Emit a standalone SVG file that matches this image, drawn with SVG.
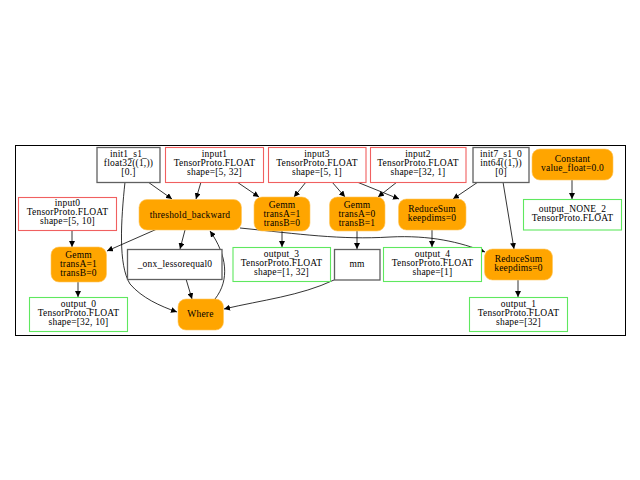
<svg xmlns="http://www.w3.org/2000/svg" width="640" height="480" viewBox="0 0 640 480">
<defs>
<marker id="ah" viewBox="0 0 10 10" refX="10" refY="5" markerWidth="6" markerHeight="6" markerUnits="userSpaceOnUse" orient="auto">
<path d="M0,0 L10,5 L0,10 z" fill="#000"/>
</marker>
</defs>
<style>
text{font-family:"Liberation Serif","Times New Roman",serif;font-size:9.5px;letter-spacing:0.2px;text-anchor:middle;fill:#000}
.init{fill:#fff;stroke:#606060;stroke-width:1.3}
.in{fill:#fff;stroke:#f06060;stroke-width:1.1}
.out{fill:#fff;stroke:#5fe85f;stroke-width:1.1}
.op{fill:#ffa500;stroke:#ffc860;stroke-width:0.6}
.e{fill:none;stroke:#000;stroke-width:0.8;marker-end:url(#ah)}
</style>
<rect width="640" height="480" fill="#fff"/>
<rect x="15.5" y="145.5" width="610" height="190" fill="none" stroke="#000" stroke-width="1"/>
<g id="connectors">
<path class="e" d="M148,182 L172,199"/>
<path class="e" d="M125,182 C121,220 118,265 130,284 C142,298 160,306 177,312"/>
<path class="e" d="M201,182 L196,199"/>
<path class="e" d="M237,182 L259,197"/>
<path class="e" d="M306,182 L294,197"/>
<path class="e" d="M332,182 L345,197"/>
<path class="e" d="M357,182 L399,199"/>
<path class="e" d="M397,182 L378,197"/>
<path class="e" d="M478,182 L453,199"/>
<path class="e" d="M503,182 L514,249"/>
<path class="e" d="M572,180 L572,199"/>
<path class="e" d="M72,231 L72,247"/>
<path class="e" d="M157,229 L107,251"/>
<path class="e" d="M185,230 L180,249"/>
<path class="e" d="M240,228 C300,234 340,240 390,237 C430,235 460,242 485,252"/>
<path class="e" d="M215,299 C230,280 227,255 210,231"/>
<path class="e" d="M186,279 L192,299"/>
<path class="e" d="M282,231 L282,247"/>
<path class="e" d="M357,231 L357,249"/>
<path class="e" d="M432,230 L432,247"/>
<path class="e" d="M518,280 L518,297"/>
<path class="e" d="M78,282 L78,297"/>
<path class="e" d="M334,280 C300,296 262,300 224,309"/>
</g>
<g id="init1_s1_"><rect class="init" x="97" y="147.5" width="63" height="35"/><text x="128.5" y="157">init1_s1_</text><text x="128.5" y="166">float32((1,))</text><text x="128.5" y="175">[0.]</text></g>
<g id="input1"><rect class="in" x="165.5" y="147.5" width="98" height="35"/><text x="214.5" y="157">input1</text><text x="214.5" y="166">TensorProto.FLOAT</text><text x="214.5" y="175">shape=[5, 32]</text></g>
<g id="input3"><rect class="in" x="268.5" y="147.5" width="97.5" height="35"/><text x="317" y="157">input3</text><text x="317" y="166">TensorProto.FLOAT</text><text x="317" y="175">shape=[5, 1]</text></g>
<g id="input2"><rect class="in" x="370.5" y="147.5" width="95.5" height="35"/><text x="418" y="157">input2</text><text x="418" y="166">TensorProto.FLOAT</text><text x="418" y="175">shape=[32, 1]</text></g>
<g id="init7_s1_0"><rect class="init" x="473" y="147.5" width="56" height="35"/><text x="501" y="157">init7_s1_0</text><text x="501" y="166">int64((1,))</text><text x="501" y="175">[0]</text></g>
<g id="Constant"><rect class="op" x="532" y="149" width="81" height="31" rx="8"/><text x="572.5" y="162">Constant</text><text x="572.5" y="171">value_float=0.0</text></g>
<g id="output_NONE_2"><rect class="out" x="523.5" y="199.5" width="98" height="30.5"/><text x="572.5" y="212">output_NONE_2</text><text x="572.5" y="221">TensorProto.FLOAT</text></g>
<g id="input0"><rect class="in" x="18.5" y="197.5" width="98" height="33"/><text x="67.5" y="206">input0</text><text x="67.5" y="215">TensorProto.FLOAT</text><text x="67.5" y="224">shape=[5, 10]</text></g>
<g id="threshold_backward"><rect class="op" x="139" y="199.5" width="102.5" height="30.5" rx="8"/><text x="190" y="218">threshold_backward</text></g>
<g id="Gemm_1"><rect class="op" x="254" y="197" width="56" height="34" rx="8"/><text x="282" y="208">Gemm</text><text x="282" y="217">transA=1</text><text x="282" y="226">transB=0</text></g>
<g id="Gemm_2"><rect class="op" x="329.5" y="197" width="55.5" height="34" rx="8"/><text x="357" y="208">Gemm</text><text x="357" y="217">transA=0</text><text x="357" y="226">transB=1</text></g>
<g id="ReduceSum_1"><rect class="op" x="398.5" y="199" width="67.5" height="31" rx="8"/><text x="432" y="212">ReduceSum</text><text x="432" y="221">keepdims=0</text></g>
<g id="Gemm_0"><rect class="op" x="51" y="247" width="55.5" height="35" rx="8"/><text x="78.5" y="258">Gemm</text><text x="78.5" y="267">transA=1</text><text x="78.5" y="276">transB=0</text></g>
<g id="_onx_lessorequal0"><rect class="init" x="127.5" y="249.5" width="94.5" height="30"/><text x="175" y="267">_onx_lessorequal0</text></g>
<g id="output_3"><rect class="out" x="233" y="247.5" width="97.5" height="34"/><text x="281.5" y="257">output_3</text><text x="281.5" y="266">TensorProto.FLOAT</text><text x="281.5" y="275">shape=[1, 32]</text></g>
<g id="mm"><rect class="init" x="334.5" y="249.5" width="45.5" height="30.5"/><text x="357" y="267">mm</text></g>
<g id="output_4"><rect class="out" x="383.5" y="247.5" width="98" height="34"/><text x="432.5" y="257">output_4</text><text x="432.5" y="266">TensorProto.FLOAT</text><text x="432.5" y="275">shape=[1]</text></g>
<g id="ReduceSum_0"><rect class="op" x="484.5" y="249" width="68" height="31" rx="8"/><text x="518.5" y="262">ReduceSum</text><text x="518.5" y="271">keepdims=0</text></g>
<g id="output_0"><rect class="out" x="29.5" y="297.5" width="98" height="34"/><text x="78.5" y="307">output_0</text><text x="78.5" y="316">TensorProto.FLOAT</text><text x="78.5" y="325">shape=[32, 10]</text></g>
<g id="Where"><rect class="op" x="178" y="299" width="45.5" height="31" rx="8"/><text x="200.5" y="317">Where</text></g>
<g id="output_1"><rect class="out" x="469.5" y="297.5" width="98" height="34"/><text x="518.5" y="307">output_1</text><text x="518.5" y="316">TensorProto.FLOAT</text><text x="518.5" y="325">shape=[32]</text></g>
</svg>
